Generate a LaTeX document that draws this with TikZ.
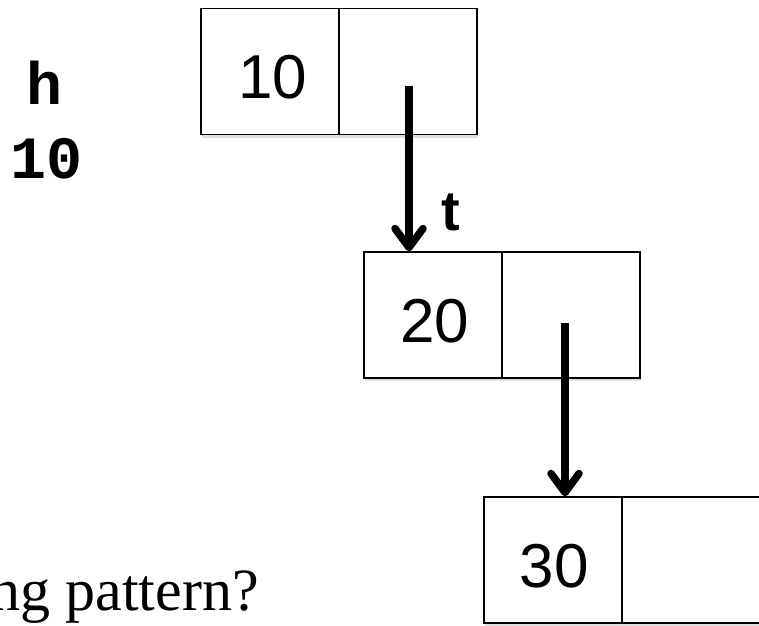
\documentclass[tikz,border=0pt]{standalone}
\usepackage{fontspec}
\setmainfont{Liberation Serif}
\newfontfamily\numfont{Liberation Sans}
\newfontfamily\codefont{Liberation Mono}
\usetikzlibrary{arrows.meta,shadows}
\tikzset{
  cell/.style={draw=black, line width=1.5pt, fill=white, minimum width=138pt, minimum height=126pt, inner sep=0pt,
    drop shadow={opacity=0.25, shadow xshift=1pt, shadow yshift=-3pt}},
  num/.style={font=\numfont\fontsize{62}{62}\selectfont, inner sep=0pt, anchor=base},
  ptr/.style={line width=7.5pt, -{Straight Barb[length=19pt, width=28pt, round]}},
  codetxt/.style={font=\codefont\bfseries\fontsize{60}{60}\selectfont, inner sep=0pt, anchor=base},
}
\begin{document}
\begin{tikzpicture}[x=1pt,y=-1pt]
\useasboundingbox (0,0) rectangle (759,625);
\clip (0,0) rectangle (759,625);
\fill[white] (0,0) rectangle (759,625);
% left texts
\node[codetxt] (h) at (45,104) {h};
\node[codetxt] (hv) at (47,178) {10};
% boxes
\node[cell] (b1l) at (270,71.5) {};
\node[cell] (b1r) at (408,71.5) {};
\node[cell] (b2l) at (433,315) {};
\node[cell] (b2r) at (571,315) {};
\node[cell] (b3l) at (553,560) {};
\node[cell] (b3r) at (691,560) {};
\node[num] (n1) at ([xshift=3pt,yshift=-26.5pt]b1l.center) {10};
\node[num] (n2) at ([xshift=2pt,yshift=-27pt]b2l.center) {20};
\node[num] (n3) at ([xshift=1pt,yshift=-27pt]b3l.center) {30};
% pointers
\coordinate (p1) at ([xshift=1pt,yshift=-14.5pt]b1r.center);
\draw[ptr] (p1) -- (p1 |- b2l.north);
\coordinate (p2) at ([xshift=-6pt,yshift=-8pt]b2r.center);
\draw[ptr] (p2) -- (p2 |- b3l.north);
\node[font=\numfont\bfseries\fontsize{56}{56}\selectfont, anchor=base, inner sep=0pt] (t) at (451,230) {t};
% question text
\node[font=\fontsize{60}{60}\selectfont, anchor=base east, inner sep=0pt] (q) at (259,610) {ng pattern?};
\end{tikzpicture}
\end{document}
